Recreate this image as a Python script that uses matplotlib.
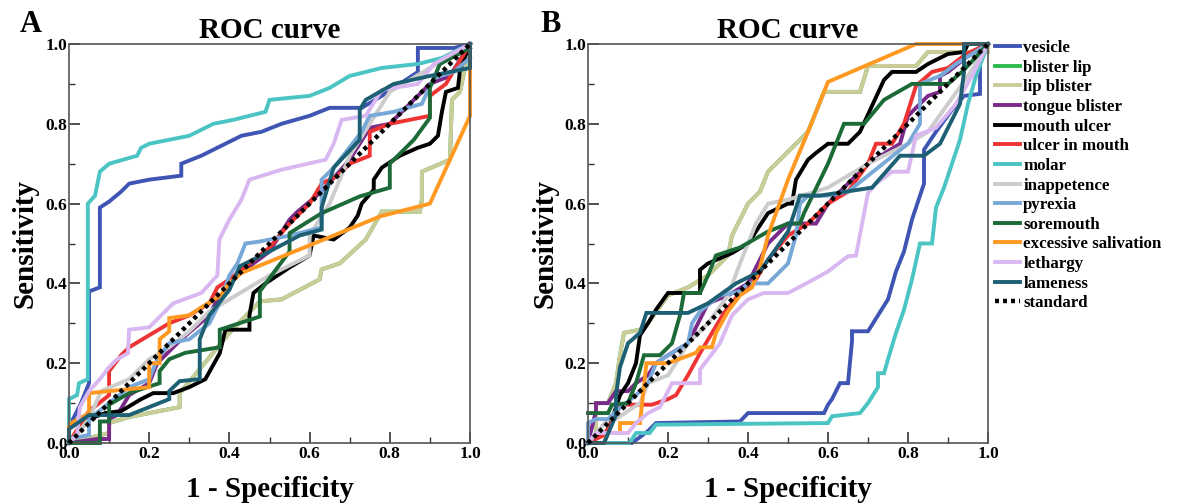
import matplotlib
matplotlib.use("Agg")
import matplotlib.pyplot as plt

# ---------------- data ----------------
labels = ["vesicle", "blister lip", "lip blister", "tongue blister", "mouth ulcer",
          "ulcer in mouth", "molar", "inappetence", "pyrexia", "soremouth",
          "excessive salivation", "lethargy", "lameness", "standard"]
colors = ["#3f55b4", "#2dbb4e", "#cccc99", "#7a2a88", "#000000",
          "#ee3333", "#4bc4c4", "#cccccc", "#78a8d8", "#1b6a38",
          "#ff9922", "#d9b8f2", "#1d5f73", "#000000"]

ticks_major = [0.0, 0.2, 0.4, 0.6, 0.8, 1.0]
ticks_minor = [0.1, 0.3, 0.5, 0.7, 0.9]
standard_x = [0.0, 1.0]
standard_y = [0.0, 1.0]

# ---- panel A ----
A_vesicle_x = [0, 0.0, 0.03, 0.05, 0.05, 0.077, 0.077, 0.10, 0.13, 0.15, 0.20, 0.28, 0.28, 0.33, 0.43, 0.48, 0.53, 0.60, 0.65, 0.73, 0.78, 0.87, 0.87, 0.96, 1.0]
A_vesicle_y = [0, 0.04, 0.10, 0.15, 0.38, 0.39, 0.59, 0.605, 0.63, 0.65, 0.66, 0.67, 0.70, 0.72, 0.77, 0.78, 0.80, 0.82, 0.84, 0.84, 0.87, 0.93, 0.99, 0.99, 1.0]
A_lipblister_x = [0, 0.10, 0.10, 0.15, 0.20, 0.276, 0.276, 0.33, 0.40, 0.476, 0.53, 0.625, 0.63, 0.675, 0.74, 0.78, 0.875, 0.88, 0.88, 0.95, 0.955, 0.975, 1.0]
A_lipblister_y = [0, 0.025, 0.05, 0.065, 0.075, 0.09, 0.125, 0.19, 0.276, 0.355, 0.36, 0.41, 0.435, 0.45, 0.51, 0.58, 0.58, 0.61, 0.68, 0.71, 0.86, 0.88, 1.0]
A_blisterlip_x = A_lipblister_x
A_blisterlip_y = A_lipblister_y
A_tongue_x = [0, 0.07, 0.10, 0.10, 0.12, 0.15, 0.20, 0.22, 0.28, 0.35, 0.37, 0.42, 0.50, 0.55, 0.57, 0.63, 0.70, 0.75, 0.80, 0.85, 0.88, 0.90, 0.95, 1.0]
A_tongue_y = [0, 0.01, 0.01, 0.06, 0.07, 0.12, 0.15, 0.20, 0.26, 0.32, 0.36, 0.42, 0.48, 0.56, 0.58, 0.63, 0.71, 0.79, 0.80, 0.85, 0.88, 0.90, 0.92, 1.0]
A_mouthulcer_x = [0, 0.05, 0.09, 0.13, 0.18, 0.21, 0.26, 0.30, 0.34, 0.376, 0.39, 0.45, 0.45, 0.46, 0.49, 0.55, 0.60, 0.61, 0.66, 0.70, 0.72, 0.73, 0.76, 0.76, 0.78, 0.825, 0.87, 0.90, 0.92, 0.93, 0.94, 0.97, 0.975, 1.0]
A_mouthulcer_y = [0.0, 0.06, 0.075, 0.08, 0.11, 0.125, 0.125, 0.14, 0.16, 0.225, 0.284, 0.284, 0.32, 0.376, 0.40, 0.44, 0.47, 0.52, 0.51, 0.54, 0.57, 0.60, 0.635, 0.66, 0.69, 0.72, 0.74, 0.75, 0.77, 0.83, 0.88, 0.89, 0.935, 1.0]
A_ulcermouth_x = [0, 0.03, 0.05, 0.10, 0.10, 0.13, 0.15, 0.20, 0.25, 0.30, 0.35, 0.37, 0.40, 0.45, 0.50, 0.55, 0.60, 0.63, 0.67, 0.70, 0.75, 0.75, 0.80, 0.90, 0.90, 0.94, 1.0]
A_ulcermouth_y = [0, 0.05, 0.08, 0.12, 0.18, 0.22, 0.24, 0.27, 0.30, 0.32, 0.35, 0.39, 0.41, 0.45, 0.49, 0.55, 0.60, 0.65, 0.67, 0.70, 0.72, 0.78, 0.80, 0.82, 0.87, 0.90, 1.0]
A_molar_x = [0, 0, 0.02, 0.025, 0.047, 0.047, 0.065, 0.077, 0.10, 0.17, 0.18, 0.20, 0.30, 0.36, 0.41, 0.49, 0.50, 0.60, 0.65, 0.70, 0.78, 0.87, 0.93, 1.0]
A_molar_y = [0, 0.11, 0.12, 0.15, 0.16, 0.60, 0.62, 0.68, 0.70, 0.72, 0.74, 0.75, 0.77, 0.80, 0.81, 0.83, 0.86, 0.87, 0.89, 0.92, 0.94, 0.95, 0.965, 1.0]
A_inapp_x = [0, 0.05, 0.08, 0.15, 0.20, 0.25, 0.30, 0.35, 0.40, 0.50, 0.60, 0.60, 0.65, 0.70, 0.75, 0.80, 0.90, 1.0]
A_inapp_y = [0, 0.06, 0.13, 0.16, 0.21, 0.24, 0.28, 0.33, 0.36, 0.42, 0.47, 0.52, 0.60, 0.72, 0.80, 0.88, 0.94, 1.0]
A_pyrexia_x = [0, 0.05, 0.05, 0.10, 0.15, 0.20, 0.22, 0.25, 0.30, 0.35, 0.38, 0.40, 0.42, 0.44, 0.476, 0.55, 0.63, 0.63, 0.66, 0.73, 0.75, 0.81, 0.88, 0.91, 0.96, 1.0]
A_pyrexia_y = [0.01, 0.02, 0.06, 0.10, 0.14, 0.16, 0.21, 0.25, 0.26, 0.30, 0.36, 0.42, 0.45, 0.50, 0.505, 0.52, 0.54, 0.66, 0.69, 0.78, 0.82, 0.83, 0.85, 0.915, 0.93, 0.965]
A_soremouth_x = [0.0, 0.077, 0.077, 0.10, 0.10, 0.15, 0.226, 0.226, 0.25, 0.29, 0.376, 0.376, 0.476, 0.476, 0.52, 0.55, 0.55, 0.63, 0.725, 0.80, 0.80, 0.86, 0.90, 0.90, 0.925, 1.0]
A_soremouth_y = [0.0, 0.0, 0.054, 0.054, 0.096, 0.125, 0.15, 0.18, 0.21, 0.226, 0.24, 0.284, 0.317, 0.38, 0.44, 0.48, 0.526, 0.576, 0.618, 0.64, 0.70, 0.76, 0.815, 0.89, 0.95, 0.99]
A_salivation_x = [0, 0.006, 0.05, 0.05, 0.20, 0.20, 0.226, 0.226, 0.25, 0.25, 0.30, 0.33, 0.376, 0.40, 0.43, 0.66, 0.776, 0.90, 1.0, 1.0]
A_salivation_y = [0.04, 0.05, 0.075, 0.125, 0.14, 0.20, 0.20, 0.26, 0.28, 0.313, 0.32, 0.34, 0.368, 0.40, 0.426, 0.52, 0.568, 0.60, 0.82, 1.0]
A_lethargy_x = [0, 0.02, 0.027, 0.05, 0.077, 0.10, 0.12, 0.147, 0.15, 0.20, 0.26, 0.33, 0.37, 0.375, 0.40, 0.43, 0.45, 0.53, 0.64, 0.66, 0.68, 0.74, 0.78, 0.87, 0.91, 1.0]
A_lethargy_y = [0.0, 0.02, 0.09, 0.13, 0.16, 0.19, 0.21, 0.225, 0.284, 0.29, 0.35, 0.376, 0.42, 0.51, 0.56, 0.61, 0.66, 0.685, 0.71, 0.75, 0.81, 0.82, 0.885, 0.90, 0.95, 1.0]
A_lameness_x = [0, 0.0, 0.05, 0.15, 0.20, 0.25, 0.25, 0.276, 0.326, 0.326, 0.35, 0.40, 0.426, 0.50, 0.575, 0.63, 0.63, 0.66, 0.725, 0.725, 0.74, 0.81, 0.90, 1.0, 1.0]
A_lameness_y = [0, 0.035, 0.07, 0.07, 0.09, 0.11, 0.13, 0.155, 0.16, 0.26, 0.32, 0.384, 0.443, 0.48, 0.52, 0.535, 0.59, 0.69, 0.76, 0.835, 0.86, 0.90, 0.92, 0.94, 1.0]

# ---- panel B ----
B_vesicle_x = [0, 0.11, 0.15, 0.17, 0.38, 0.40, 0.59, 0.60, 0.61, 0.63, 0.65, 0.66, 0.66, 0.70, 0.75, 0.77, 0.79, 0.81, 0.83, 0.84, 0.84, 0.87, 0.91, 0.94, 0.98, 0.98, 1.0]
B_vesicle_y = [0, 0.0, 0.03, 0.05, 0.054, 0.075, 0.075, 0.096, 0.11, 0.15, 0.15, 0.255, 0.28, 0.28, 0.36, 0.43, 0.48, 0.56, 0.62, 0.65, 0.735, 0.78, 0.835, 0.87, 0.875, 1.0, 1.0]
B_lipblister_x = [0, 0.02, 0.02, 0.05, 0.07, 0.08, 0.09, 0.13, 0.15, 0.20, 0.25, 0.30, 0.35, 0.36, 0.38, 0.40, 0.43, 0.45, 0.50, 0.55, 0.59, 0.68, 0.70, 0.82, 0.85, 1.0, 1.0]
B_lipblister_y = [0, 0.02, 0.10, 0.10, 0.15, 0.22, 0.276, 0.284, 0.30, 0.37, 0.39, 0.42, 0.47, 0.52, 0.56, 0.60, 0.63, 0.68, 0.73, 0.78, 0.88, 0.88, 0.945, 0.945, 0.98, 0.98, 1.0]
B_blisterlip_x = B_lipblister_x
B_blisterlip_y = B_lipblister_y
B_tongue_x = [0, 0.02, 0.02, 0.05, 0.07, 0.10, 0.12, 0.15, 0.17, 0.20, 0.25, 0.30, 0.35, 0.40, 0.45, 0.50, 0.57, 0.60, 0.70, 0.78, 0.80, 0.85, 0.88, 0.88, 0.90, 0.95, 1.0]
B_tongue_y = [0, 0.08, 0.10, 0.10, 0.13, 0.13, 0.15, 0.17, 0.20, 0.22, 0.25, 0.35, 0.37, 0.40, 0.50, 0.55, 0.55, 0.60, 0.70, 0.75, 0.82, 0.87, 0.88, 0.92, 0.93, 0.97, 1.0]
B_mouthulcer_x = [0, 0.05, 0.08, 0.10, 0.12, 0.13, 0.15, 0.17, 0.20, 0.28, 0.28, 0.30, 0.36, 0.40, 0.45, 0.50, 0.51, 0.52, 0.55, 0.57, 0.60, 0.65, 0.68, 0.74, 0.76, 0.82, 0.85, 0.90, 0.94, 0.95, 1.0]
B_mouthulcer_y = [0, 0.03, 0.12, 0.15, 0.20, 0.27, 0.30, 0.334, 0.376, 0.376, 0.434, 0.45, 0.476, 0.50, 0.576, 0.60, 0.60, 0.66, 0.71, 0.727, 0.75, 0.75, 0.78, 0.91, 0.93, 0.93, 0.95, 0.975, 0.98, 1.0, 1.0]
B_ulcermouth_x = [0, 0.04, 0.07, 0.08, 0.16, 0.20, 0.22, 0.25, 0.28, 0.31, 0.34, 0.38, 0.42, 0.45, 0.50, 0.55, 0.60, 0.65, 0.70, 0.72, 0.76, 0.79, 0.82, 0.86, 0.90, 0.945, 1.0]
B_ulcermouth_y = [0, 0.02, 0.07, 0.096, 0.096, 0.11, 0.12, 0.17, 0.225, 0.276, 0.326, 0.376, 0.41, 0.46, 0.52, 0.55, 0.60, 0.63, 0.70, 0.75, 0.75, 0.80, 0.895, 0.93, 0.94, 0.975, 1.0]
B_molar_x = [0, 0.104, 0.12, 0.154, 0.17, 0.60, 0.61, 0.68, 0.70, 0.725, 0.725, 0.74, 0.75, 0.77, 0.79, 0.81, 0.83, 0.86, 0.87, 0.89, 0.91, 0.93, 0.95, 0.97, 1.0]
B_molar_y = [0, 0.0, 0.025, 0.025, 0.046, 0.05, 0.067, 0.075, 0.10, 0.14, 0.175, 0.175, 0.21, 0.276, 0.334, 0.41, 0.50, 0.50, 0.59, 0.64, 0.70, 0.76, 0.85, 0.92, 1.0]
B_inapp_x = [0, 0.05, 0.07, 0.10, 0.13, 0.15, 0.20, 0.22, 0.25, 0.30, 0.35, 0.38, 0.42, 0.45, 0.50, 0.60, 0.70, 0.80, 0.85, 0.90, 0.95, 1.0]
B_inapp_y = [0, 0.06, 0.06, 0.08, 0.10, 0.15, 0.17, 0.20, 0.25, 0.30, 0.37, 0.45, 0.55, 0.60, 0.61, 0.64, 0.70, 0.75, 0.78, 0.85, 0.92, 1.0]
B_pyrexia_x = [0, 0.0, 0.02, 0.05, 0.07, 0.12, 0.15, 0.17, 0.20, 0.25, 0.26, 0.28, 0.33, 0.38, 0.40, 0.45, 0.50, 0.52, 0.53, 0.55, 0.60, 0.65, 0.70, 0.80, 0.83, 0.83, 0.88, 0.92, 1.0]
B_pyrexia_y = [0, 0.05, 0.06, 0.06, 0.08, 0.12, 0.15, 0.20, 0.22, 0.25, 0.30, 0.33, 0.37, 0.38, 0.40, 0.40, 0.45, 0.52, 0.60, 0.62, 0.62, 0.63, 0.67, 0.75, 0.80, 0.90, 0.92, 0.95, 1.0]
B_soremouth_x = [0, 0.05, 0.06, 0.10, 0.12, 0.14, 0.18, 0.21, 0.23, 0.24, 0.28, 0.30, 0.32, 0.38, 0.45, 0.50, 0.53, 0.54, 0.60, 0.64, 0.69, 0.74, 0.81, 0.90, 0.94, 1.0]
B_soremouth_y = [0.075, 0.075, 0.096, 0.10, 0.15, 0.22, 0.22, 0.25, 0.32, 0.376, 0.376, 0.42, 0.47, 0.49, 0.53, 0.55, 0.55, 0.576, 0.70, 0.80, 0.80, 0.86, 0.90, 0.90, 0.935, 1.0]
B_salivation_x = [0, 0.04, 0.05, 0.08, 0.08, 0.13, 0.146, 0.20, 0.27, 0.28, 0.31, 0.32, 0.35, 0.38, 0.41, 0.43, 0.45, 0.50, 0.55, 0.60, 0.82, 1.0]
B_salivation_y = [0, 0.0, 0.025, 0.025, 0.05, 0.05, 0.20, 0.20, 0.226, 0.24, 0.24, 0.276, 0.33, 0.37, 0.39, 0.44, 0.52, 0.66, 0.78, 0.905, 1.0, 1.0]
B_lethargy_x = [0, 0.02, 0.10, 0.12, 0.15, 0.18, 0.21, 0.28, 0.28, 0.33, 0.36, 0.40, 0.44, 0.50, 0.546, 0.60, 0.65, 0.67, 0.70, 0.72, 0.76, 0.80, 0.82, 0.87, 0.92, 0.96, 1.0]
B_lethargy_y = [0, 0.025, 0.025, 0.05, 0.075, 0.09, 0.15, 0.15, 0.184, 0.25, 0.32, 0.36, 0.376, 0.376, 0.40, 0.43, 0.468, 0.47, 0.627, 0.65, 0.68, 0.68, 0.77, 0.79, 0.85, 0.92, 1.0]
B_lameness_x = [0, 0.04, 0.07, 0.07, 0.08, 0.10, 0.13, 0.146, 0.25, 0.30, 0.37, 0.43, 0.50, 0.53, 0.58, 0.71, 0.78, 0.84, 0.88, 0.93, 0.94, 0.94, 1.0]
B_lameness_y = [0, 0.0, 0.07, 0.12, 0.19, 0.25, 0.276, 0.326, 0.326, 0.35, 0.40, 0.43, 0.53, 0.62, 0.62, 0.64, 0.72, 0.72, 0.75, 0.85, 0.93, 1.0, 1.0]

panel_A = [
    (A_vesicle_x, A_vesicle_y), (A_blisterlip_x, A_blisterlip_y), (A_lipblister_x, A_lipblister_y),
    (A_tongue_x, A_tongue_y), (A_mouthulcer_x, A_mouthulcer_y), (A_ulcermouth_x, A_ulcermouth_y),
    (A_molar_x, A_molar_y), (A_inapp_x, A_inapp_y), (A_pyrexia_x, A_pyrexia_y),
    (A_soremouth_x, A_soremouth_y), (A_salivation_x, A_salivation_y), (A_lethargy_x, A_lethargy_y),
    (A_lameness_x, A_lameness_y), (standard_x, standard_y)]
panel_B = [
    (B_vesicle_x, B_vesicle_y), (B_blisterlip_x, B_blisterlip_y), (B_lipblister_x, B_lipblister_y),
    (B_tongue_x, B_tongue_y), (B_mouthulcer_x, B_mouthulcer_y), (B_ulcermouth_x, B_ulcermouth_y),
    (B_molar_x, B_molar_y), (B_inapp_x, B_inapp_y), (B_pyrexia_x, B_pyrexia_y),
    (B_soremouth_x, B_soremouth_y), (B_salivation_x, B_salivation_y), (B_lethargy_x, B_lethargy_y),
    (B_lameness_x, B_lameness_y), (standard_x, standard_y)]

# ---------------- figure ----------------
SERIF = "Liberation Serif"
plt.rcParams["font.family"] = SERIF
plt.rcParams["font.weight"] = "bold"

W, H = 1183, 504
fig = plt.figure(figsize=(W / 100, H / 100), dpi=100)
fig.patch.set_facecolor("white")

def px_axes(left, top, right, bottom):
    return fig.add_axes([left / W, 1 - bottom / H, (right - left) / W, (bottom - top) / H])

axA = px_axes(69, 44, 470, 443)
axB = px_axes(588, 44, 988, 443)

handles = []
for ax, series, letter, lx in [(axA, panel_A, "A", 20), (axB, panel_B, "B", 540)]:
    hs = []
    for (xs, ys), lab, col in zip(series, labels, colors):
        if lab == "standard":
            ln, = ax.plot(xs, ys, color=col, lw=3.2, linestyle=(0, (0.9, 0.9)),
                          dash_capstyle="butt", label=lab, zorder=5, clip_on=False)
        else:
            ln, = ax.plot(xs, ys, color=col, lw=2.8, label=lab, solid_joinstyle="miter",
                          clip_on=False)
        hs.append(ln)
    handles = hs
    ax.set_xlim(0, 1)
    ax.set_ylim(0, 1)
    ax.set_xticks(ticks_major)
    ax.set_yticks(ticks_major)
    ax.set_xticks(ticks_minor, minor=True)
    ax.set_yticks(ticks_minor, minor=True)
    ax.set_xticklabels([f"{t:.1f}" for t in ticks_major])
    ax.set_yticklabels([f"{t:.1f}" for t in ticks_major])
    ax.tick_params(axis="both", which="major", direction="in", length=8, width=1.2,
                   labelsize=12.5, color="#333333")
    ax.tick_params(axis="both", which="minor", direction="in", length=4, width=1.0, color="#333333")
    ax.tick_params(axis="y", which="major", pad=1)
    ax.tick_params(axis="x", which="major", pad=2)
    for lab in ax.get_xticklabels() + ax.get_yticklabels():
        lab.set_fontweight("bold")
        lab.set_family(SERIF)
    for sp in ax.spines.values():
        sp.set_color("#555555")
        sp.set_linewidth(1.2)
    ax.set_title("ROC curve", fontsize=21, fontweight="bold", family=SERIF, pad=4)
    cx = (ax.get_position().x0 + ax.get_position().x1) / 2
    fig.text(cx, 1 - 497 / H, "1 - Specificity", ha="center", va="baseline",
             fontsize=21, fontweight="bold", family=SERIF)
    fig.text((lx + 5) / W, 0.5 * (2 - (44 + 443) / H), "Sensitivity", rotation=90,
             ha="center", va="center", fontsize=21, fontweight="bold", family=SERIF)
    fig.text(lx / W, 1 - 32 / H, letter, ha="left", va="baseline",
             fontsize=22, fontweight="bold", family=SERIF)

leg = fig.legend(handles=handles, labels=labels, loc="upper left",
                 bbox_to_anchor=(995 / W, 1 - 40 / H), frameon=False,
                 prop={"family": SERIF, "weight": "bold", "size": 12.2},
                 handlelength=1.45, handletextpad=0.22, labelspacing=0.215,
                 borderpad=0, borderaxespad=0)

fig.savefig("out.png", dpi=100)
